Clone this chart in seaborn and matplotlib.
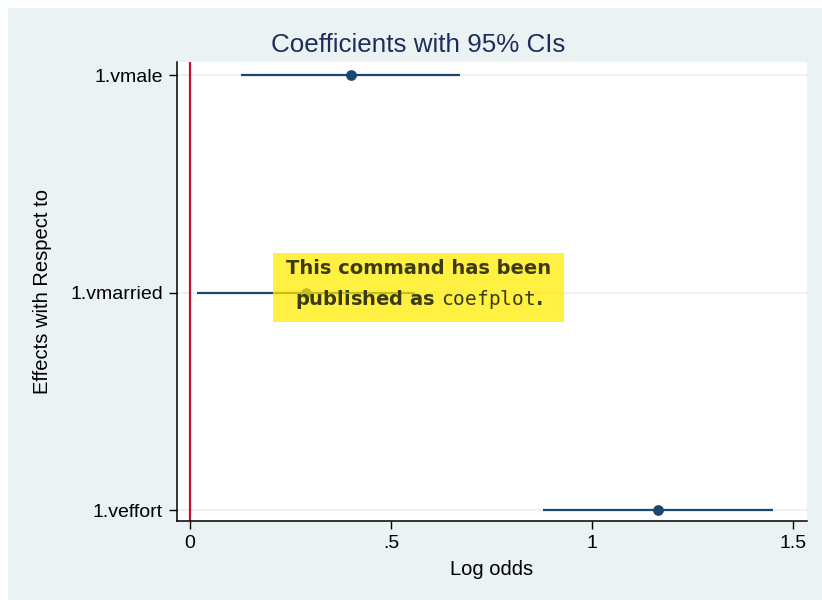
import matplotlib
matplotlib.use("Agg")
import matplotlib.pyplot as plt
from matplotlib.patches import Rectangle
import pandas as pd
import seaborn as sns

# Coefficient estimates (log odds) with 95% confidence bounds
terms = ["1.vmale", "1.vmarried", "1.veffort"]
coef = [0.400, 0.289, 1.164]
ci_low = [0.127, 0.017, 0.878]
ci_high = [0.672, 0.560, 1.450]
x_ticks = [0, 0.5, 1, 1.5]
x_tick_labels = ["0", ".5", "1", "1.5"]

df = pd.DataFrame({"term": terms, "coef": coef, "lo": ci_low, "hi": ci_high})

BG = "#eaf2f3"
NAVY = "#1a476f"
RED = "#c8102e"

sns.set_style("white")
plt.rcParams["font.family"] = ["Liberation Sans", "DejaVu Sans"]
plt.rcParams["mathtext.fontset"] = "dejavusans"

fig = plt.figure(figsize=(8.22, 6.0), dpi=100, facecolor="white")
fig.patches.append(Rectangle((8 / 822, 0), 1, (600 - 8) / 600,
                             transform=fig.transFigure, facecolor=BG,
                             edgecolor="none", zorder=-10))
ax = fig.add_axes([177 / 822, 1 - 521 / 600, 630 / 822, 459 / 600])
ax.set_facecolor("white")

# horizontal grid at each term
for t in terms:
    ax.axhline(t, color=BG, lw=1.5, zorder=0)

# reference line at zero
ax.axvline(0, color=RED, lw=1.6, zorder=1)

# confidence intervals and point estimates
ax.hlines(df["term"], df["lo"], df["hi"], color=NAVY, lw=1.6, zorder=2)
sns.scatterplot(data=df, x="coef", y="term", ax=ax, color=NAVY, s=60,
                edgecolor=NAVY, linewidth=0, zorder=3, legend=False)

ax.set_xlim(-0.0323, 1.5348)
ax.set_ylim(2.05, -0.06)
ax.set_xticks(x_ticks)
ax.set_xticklabels(x_tick_labels)

for s in ["top", "right"]:
    ax.spines[s].set_visible(False)
for s in ["left", "bottom"]:
    ax.spines[s].set_color("black")
    ax.spines[s].set_linewidth(1.1)

ax.tick_params(axis="both", direction="out", length=6, width=1.0,
               color="black", labelsize=14, labelcolor="black", pad=4,
               left=True, bottom=True)

ax.set_xlabel("Log odds", fontsize=14.5, color="black", labelpad=6)
ax.set_ylabel("Effects with Respect to", fontsize=14.5, color="black")
ax.yaxis.set_label_coords(-0.198, 0.5)

fig.text(418 / 822, 1 - 45 / 600, "Coefficients with 95% CIs",
         ha="center", va="center", fontsize=18.7, color="#1f2d5a")

# translucent note box
ax.add_patch(Rectangle((0.2065, 0.818), 0.930 - 0.2065, 1.136 - 0.818,
                       facecolor="#ffec00", alpha=0.74, edgecolor="none",
                       zorder=5))
ax.text(0.568, 0.887, "This command has been", ha="center", va="center",
        fontsize=14, fontweight="bold", color="#3b3a12",
        family="DejaVu Sans", zorder=6)
ax.text(0.568, 1.034, r"published as $\mathtt{coefplot}$.", ha="center",
        va="center", fontsize=14, fontweight="bold", color="#3b3a12",
        family="DejaVu Sans", zorder=6)

fig.savefig("out.png", dpi=100, facecolor=fig.get_facecolor())
